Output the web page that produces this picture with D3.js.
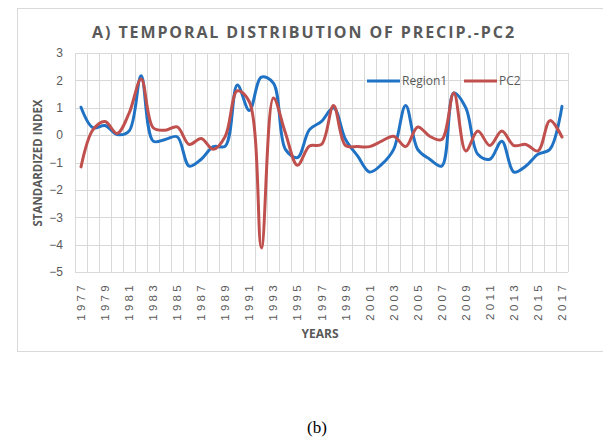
<!DOCTYPE html>
<html>
<head>
<meta charset="utf-8">
<script src="https://cdn.jsdelivr.net/npm/d3@7"></script>
<style>
	body { margin: 0; background: #fff; }
	svg { display: block; }
</style>
</head>
<body>
<script>
//data
const years = d3.range(1977, 2018).map(String);
const region1 = [1.02, 0.27, 0.35, 0.02, 0.15, 2.17, -0.22, -0.16, -0.06, -1.13,
	-0.88, -0.42, -0.40, 1.83, 0.90, 2.12, 1.90, -0.52, -0.82, 0.20,
	0.50, 1.00, -0.16, -0.76, -1.35, -1.07, -0.52, 1.08, -0.52, -0.88,
	-1.13, 1.54, 1.00, -0.70, -0.88, -0.22, -1.35, -1.13, -0.70, -0.52, 1.05];
const pc2 = [-1.16, 0.20, 0.50, 0.06, 0.80, 2.05, 0.27, 0.18, 0.30, -0.34,
	-0.12, -0.52, -0.04, 1.62, 1.22, -4.12, 1.36, 0.08, -1.10, -0.40,
	-0.34, 1.08, -0.38, -0.42, -0.42, -0.22, -0.04, -0.42, 0.30, -0.04,
	-0.16, 1.54, -0.58, 0.15, -0.38, 0.15, -0.38, -0.34, -0.58, 0.53, -0.07];
const yTicks = [3, 2, 1, 0, -1, -2, -3, -4, -5];
const seriesNames = ["Region1", "PC2"];
const colors = ["#1f72c4", "#c0504d"];

const width = 603, height = 439;
const plot = {left: 75, right: 568, top: 53, bottom: 272};

var svg = d3.select("body").append("svg")
	.attr("width", width)
	.attr("height", height)
	.style("font-family", "'Open Sans', sans-serif");

//outer chart border
svg.append("rect")
	.attr("x", 17.5).attr("y", 8.5)
	.attr("width", 600).attr("height", 343)
	.attr("fill", "none")
	.attr("stroke", "#d9d9d9");

//scales
var xScale = d3.scaleBand().domain(years).range([plot.left, plot.right]);
var yScale = d3.scaleLinear().domain([-5, 3]).range([plot.bottom, plot.top]);
var xc = function(d, i) { return xScale(years[i]) + xScale.bandwidth() / 2; };

//grid lines
var grid = svg.append("g").attr("stroke", "#d9d9d9").attr("stroke-width", 1);
grid.selectAll(".h").data(yTicks).enter().append("line")
	.attr("x1", plot.left).attr("x2", plot.right)
	.attr("y1", d => Math.round(yScale(d)) + 0.5)
	.attr("y2", d => Math.round(yScale(d)) + 0.5);
grid.selectAll(".v").data(years.concat(["end"])).enter().append("line")
	.attr("x1", (d, i) => Math.round(plot.left + i * xScale.bandwidth()) + 0.5)
	.attr("x2", (d, i) => Math.round(plot.left + i * xScale.bandwidth()) + 0.5)
	.attr("y1", plot.top).attr("y2", plot.bottom);

//y axis labels
var yAxis = d3.axisLeft(yScale).tickValues(yTicks).tickSize(0).tickPadding(12);
svg.append("g")
	.attr("transform", "translate(" + plot.left + ",0)")
	.call(yAxis)
	.call(g => g.select(".domain").remove())
	.selectAll("text")
	.attr("fill", "#595959")
	.style("font-size", "12px");

//x axis labels, every other year, rotated
var xAxis = d3.axisBottom(xScale)
	.tickValues(years.filter((d, i) => i % 2 == 0))
	.tickSize(0);
svg.append("g")
	.attr("transform", "translate(0," + plot.bottom + ")")
	.call(xAxis)
	.call(g => g.select(".domain").remove())
	.selectAll("text")
	.attr("fill", "#595959")
	.style("font-size", "11.5px")
	.style("letter-spacing", "3.3px")
	.attr("text-anchor", "end")
	.attr("transform", "rotate(-90)")
	.attr("x", -10)
	.attr("y", 0)
	.attr("dy", "0.35em");

//lines, smoothed like excel
var line = d3.line()
	.x(xc)
	.y(d => yScale(d))
	.curve(d3.curveCatmullRom.alpha(0.5));

[region1, pc2].forEach(function(vals, k) {
	svg.append("path")
		.datum(vals)
		.attr("fill", "none")
		.attr("stroke", colors[k])
		.attr("stroke-width", 3)
		.attr("stroke-linejoin", "round")
		.attr("stroke-linecap", "round")
		.attr("d", line);
});

//title
svg.append("text")
	.attr("x", 304).attr("y", 38)
	.attr("text-anchor", "middle")
	.attr("fill", "#595959")
	.style("font-size", "16px")
	.style("font-weight", "bold")
	.style("letter-spacing", "1.9px")
	.text("A) TEMPORAL DISTRIBUTION OF PRECIP.-PC2");

//axis titles
svg.append("text")
	.attr("transform", "translate(42,163) rotate(-90)")
	.attr("text-anchor", "middle")
	.attr("fill", "#595959")
	.style("font-size", "11.5px")
	.style("font-weight", "bold")
	.text("STANDARDIZED INDEX");

svg.append("text")
	.attr("x", 320).attr("y", 338)
	.attr("text-anchor", "middle")
	.attr("fill", "#595959")
	.style("font-size", "12px")
	.style("font-weight", "bold")
	.text("YEARS");

//legend
var legend = svg.append("g")
	.selectAll("g")
	.data(seriesNames)
	.enter().append("g")
	.attr("transform", (d, i) => "translate(" + (367 + i * 97) + ",81)");
legend.append("line")
	.attr("x1", 0).attr("x2", 33)
	.attr("stroke", (d, i) => colors[i])
	.attr("stroke-width", 3);
legend.append("text")
	.attr("x", 35)
	.attr("dy", "0.35em")
	.attr("fill", "#595959")
	.style("font-size", "12px")
	.text(d => d);

//caption
svg.append("text")
	.attr("x", 317).attr("y", 433)
	.attr("text-anchor", "middle")
	.attr("fill", "#000")
	.style("font-family", "'Liberation Serif', serif")
	.style("font-size", "17px")
	.text("(b)");
</script>
</body>
</html>
